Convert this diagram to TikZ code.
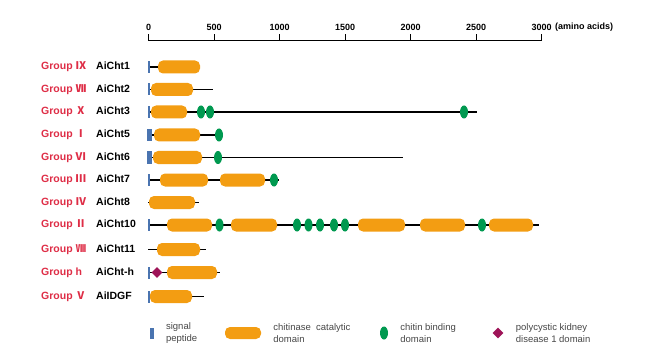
\documentclass[tikz,border=0pt]{standalone}
\usepackage{fontspec}
\setmainfont{Liberation Sans}
\newfontfamily\cjk{Noto Sans CJK SC}
\usetikzlibrary{shapes.geometric, positioning}
\definecolor{catorange}{RGB}{243,157,18}
\definecolor{cbdgreen}{RGB}{0,153,80}
\definecolor{spblue}{RGB}{74,116,176}
\definecolor{pkdred}{RGB}{158,20,88}
\definecolor{grpred}{RGB}{222,45,70}
\definecolor{legtxt}{RGB}{70,70,70}
\tikzset{
    grouplabel/.style={anchor=west, text=grpred, font=\fontsize{10.5}{12}\selectfont\bfseries, inner sep=0pt, text height=7.6pt, text depth=2pt},
    protname/.style={anchor=west, font=\fontsize{10.5}{12}\selectfont\bfseries, inner sep=0pt, text height=7.6pt, text depth=2pt},
    backbone/.style={line width=1.8pt, black},
    axisline/.style={line width=1.3pt, black},
    cat/.style={rectangle, rounded corners=5pt, fill=catorange, minimum height=13pt, inner sep=0pt},
    cbd/.style={ellipse, fill=cbdgreen, minimum width=8pt, minimum height=13pt, inner sep=0pt},
    sig/.style={rectangle, fill=spblue, minimum width=2pt, minimum height=12pt, inner sep=0pt},
    sigwide/.style={sig, minimum width=5pt},
    pkd/.style={diamond, fill=pkdred, minimum size=11pt, inner sep=0pt},
    ticklab/.style={font=\fontsize{9}{10}\selectfont\bfseries, inner sep=0pt},
    legtext/.style={align=left, text=legtxt, font=\fontsize{9.5}{11.5}\selectfont, inner sep=0pt}
}

\begin{document}
\begin{tikzpicture}[x=1pt, y=-1pt, node distance=12pt]
    \useasboundingbox (0,0) rectangle (660,358);

    % length scale
    \coordinate (ax0) at (148.7,40.7);
    \coordinate (ax3000) at (541.7,40.7);
    \draw [axisline] (ax0) -- (ax3000);
    \draw [axisline] (148.7,40.7) -- ++(0,-7);
    \draw [axisline] (214.2,40.7) -- ++(0,-7);
    \draw [axisline] (279.7,40.7) -- ++(0,-7);
    \draw [axisline] (345.2,40.7) -- ++(0,-7);
    \draw [axisline] (410.7,40.7) -- ++(0,-7);
    \draw [axisline] (476.2,40.7) -- ++(0,-7);
    \draw [axisline] (541.7,40.7) -- ++(0,-7);
    \node (l0) [ticklab] at (148.7,27.5) {0};
    \node (l500) [ticklab] at (214.2,27.5) {500};
    \node (l1000) [ticklab] at (279.7,27.5) {1000};
    \node (l1500) [ticklab] at (345.2,27.5) {1500};
    \node (l2000) [ticklab] at (410.7,27.5) {2000};
    \node (l2500) [ticklab] at (476.2,27.5) {2500};
    \node (l3000) [ticklab] at (541.7,27.5) {3000};
    \node (unit) [ticklab, right=3pt of l3000] {(amino acids)};

    % row labels
    \node (g1) [grouplabel] at (41,67) {Group {\cjk Ⅸ}};
    \node (g2) [grouplabel] at (41,89.5) {Group {\cjk Ⅶ}};
    \node (g3) [grouplabel] at (41,112) {Group {\cjk Ⅹ}};
    \node (g4) [grouplabel] at (41,135) {Group {\cjk Ⅰ}};
    \node (g5) [grouplabel] at (41,157.5) {Group {\cjk Ⅵ}};
    \node (g6) [grouplabel] at (41,180) {Group {\cjk Ⅲ}};
    \node (g7) [grouplabel] at (41,202.5) {Group {\cjk Ⅳ}};
    \node (g8) [grouplabel] at (41,225) {Group {\cjk Ⅱ}};
    \node (g9) [grouplabel] at (41,249.5) {Group {\cjk Ⅷ}};
    \node (g10) [grouplabel] at (41,272.5) {Group h};
    \node (g11) [grouplabel] at (41,296.5) {Group {\cjk Ⅴ}};

    \node (p1) [protname] at (96,67) {AiCht1};
    \node (p2) [protname] at (96,89.5) {AiCht2};
    \node (p3) [protname] at (96,112) {AiCht3};
    \node (p4) [protname] at (96,135) {AiCht5};
    \node (p5) [protname] at (96,157.5) {AiCht6};
    \node (p6) [protname] at (96,180) {AiCht7};
    \node (p7) [protname] at (96,202.5) {AiCht8};
    \node (p8) [protname] at (96,225) {AiCht10};
    \node (p9) [protname] at (96,249.5) {AiCht11};
    \node (p10) [protname] at (96,272.5) {AiCht-h};
    \node (p11) [protname] at (96,296.5) {AiIDGF};

    % AiCht1
    \coordinate (r1a) at (148,67);
    \coordinate (r1b) at (200,67);
    \draw [backbone] (r1a) -- (r1b);
    \node (sp1) [sig] at (148.5,67) {};
    \node (c1a) [cat, minimum width=42pt] at (179,67) {};

    % AiCht2
    \coordinate (r2a) at (148,89.5);
    \coordinate (r2b) at (213,89.5);
    \draw [backbone] (r2a) -- (r2b);
    \node (sp2) [sig] at (148.5,89.5) {};
    \node (c2a) [cat, minimum width=42pt] at (172,89.5) {};

    % AiCht3
    \coordinate (r3a) at (148,112);
    \coordinate (r3b) at (477,112);
    \draw [backbone] (r3a) -- (r3b);
    \node (sp3) [sig] at (148.5,112) {};
    \node (c3a) [cat, minimum width=36pt] at (169,112) {};
    \node (b3a) [cbd] at (201,112) {};
    \node (b3b) [cbd] at (210,112) {};
    \node (b3c) [cbd] at (464,112) {};

    % AiCht5
    \coordinate (r4a) at (148,135);
    \coordinate (r4b) at (219,135);
    \draw [backbone] (r4a) -- (r4b);
    \node (sp4) [sigwide] at (149.8,135) {};
    \node (c4a) [cat, minimum width=46pt] at (177,135) {};
    \node (b4a) [cbd] at (219,135) {};

    % AiCht6
    \coordinate (r5a) at (148,157.5);
    \coordinate (r5b) at (403,157.5);
    \draw [backbone] (r5a) -- (r5b);
    \node (sp5) [sigwide] at (149.8,157.5) {};
    \node (c5a) [cat, minimum width=49pt] at (177.5,157.5) {};
    \node (b5a) [cbd] at (218,157.5) {};

    % AiCht7
    \coordinate (r6a) at (148,180);
    \coordinate (r6b) at (279,180);
    \draw [backbone] (r6a) -- (r6b);
    \node (sp6) [sig] at (148.5,180) {};
    \node (c6a) [cat, minimum width=48pt] at (184,180) {};
    \node (c6b) [cat, minimum width=45pt] at (242.5,180) {};
    \node (b6a) [cbd] at (274,180) {};

    % AiCht8
    \coordinate (r7a) at (148,202.5);
    \coordinate (r7b) at (199,202.5);
    \draw [backbone] (r7a) -- (r7b);
    \node (c7a) [cat, minimum width=46pt] at (172,202.5) {};

    % AiCht10
    \coordinate (r8a) at (148,225);
    \coordinate (r8b) at (539,225);
    \draw [backbone] (r8a) -- (r8b);
    \node (sp8) [sig] at (148.5,225) {};
    \node (c8a) [cat, minimum width=45pt] at (189.5,225) {};
    \node (b8a) [cbd] at (219.5,225) {};
    \node (c8b) [cat, minimum width=46pt] at (254,225) {};
    \node (b8b) [cbd] at (297,225) {};
    \node (b8c) [cbd] at (308.5,225) {};
    \node (b8d) [cbd] at (320,225) {};
    \node (b8e) [cbd] at (334,225) {};
    \node (b8f) [cbd] at (345,225) {};
    \node (c8c) [cat, minimum width=47pt] at (381.5,225) {};
    \node (c8d) [cat, minimum width=45pt] at (442.5,225) {};
    \node (b8g) [cbd] at (482,225) {};
    \node (c8e) [cat, minimum width=44pt] at (511,225) {};

    % AiCht11
    \coordinate (r9a) at (148,249.5);
    \coordinate (r9b) at (206,249.5);
    \draw [backbone] (r9a) -- (r9b);
    \node (c9a) [cat, minimum width=43pt] at (178.5,249.5) {};

    % AiCht-h
    \coordinate (r10a) at (148,272.5);
    \coordinate (r10b) at (220,272.5);
    \draw [backbone] (r10a) -- (r10b);
    \node (sp10) [sig] at (148.5,272.5) {};
    \node (d10a) [pkd] at (157,272.5) {};
    \node (c10a) [cat, minimum width=50pt] at (192,272.5) {};

    % AiIDGF
    \coordinate (r11a) at (148,296.5);
    \coordinate (r11b) at (204,296.5);
    \draw [backbone] (r11a) -- (r11b);
    \node (sp11) [sig] at (148.5,296.5) {};
    \node (c11a) [cat, minimum width=42pt] at (171,296.5) {};

    % legend
    \node (lsp) [sig, minimum width=4pt, minimum height=11pt] at (151.7,333) {};
    \node (lsptext) [legtext, right=of lsp] {signal\\peptide};
    \node (lcat) [cat, minimum width=36pt, minimum height=12pt] at (243,333) {};
    \node (lcattext) [legtext, right=of lcat] {chitinase\ \ catalytic\\domain};
    \node (lcbd) [cbd] at (384,333) {};
    \node (lcbdtext) [legtext, right=of lcbd] {chitin binding\\domain};
    \node (lpkd) [pkd] at (498,333) {};
    \node (lpkdtext) [legtext, right=of lpkd] {polycystic kidney\\disease 1 domain};
\end{tikzpicture}
\end{document}
